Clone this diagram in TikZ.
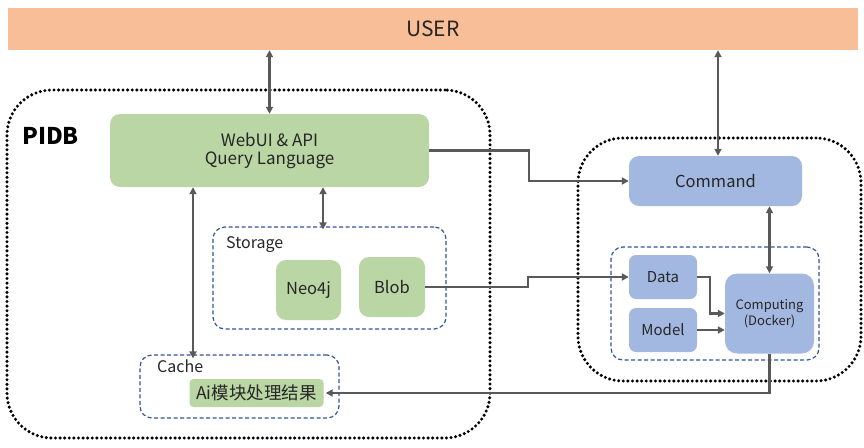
\documentclass[tikz,border=0pt]{standalone}
\usepackage{fontspec}
\setmainfont{Noto Sans CJK SC}
\usetikzlibrary{arrows.meta}
\definecolor{peach}{HTML}{F7BE98}
\definecolor{gfill}{HTML}{B9D6A4}
\definecolor{bfill}{HTML}{A3B8E0}
\definecolor{dblue}{HTML}{2F5597}
\definecolor{lgray}{HTML}{595959}
\definecolor{txt}{HTML}{262626}
\newcommand{\fs}[1]{\fontsize{#1}{#1}\selectfont}
\begin{document}
\begin{tikzpicture}[x=1pt,y=-1pt,
  every node/.style={text=txt},
  gbox/.style={fill=gfill, rounded corners=10pt, align=center, inner sep=0pt, font=\fs{16.5}},
  bbox/.style={fill=bfill, rounded corners=10pt, align=center, inner sep=0pt, font=\fs{15}},
  dotbox/.style={draw=black, line width=3.4pt, dash pattern=on 0pt off 4.6pt, line cap=round, rounded corners=45pt, inner sep=0pt},
  dashbox/.style={draw=dblue, line width=1.2pt, dash pattern=on 4pt off 2.5pt, rounded corners=12pt, inner sep=0pt},
  lbl/.style={anchor=west, inner sep=0pt, font=\fs{16}},
  conn/.style={draw=lgray, line width=2.5pt, -{Triangle[length=7pt,width=7pt]}},
  bconn/.style={draw=lgray, line width=2.5pt, {Triangle[length=7pt,width=7pt]}-{Triangle[length=7pt,width=7pt]}}
]
\useasboundingbox (0,0) rectangle (864,447);
% USER bar
\node[fill=peach, minimum width=850pt, minimum height=42pt, inner sep=0pt, font=\fs{21}] (user) at (433,29) {USER};
% containers
\node[dotbox, minimum width=483pt, minimum height=348pt] (pidb) at (248.5,264) {};
\node[dotbox, minimum width=283pt, minimum height=243pt] (right) at (719.5,259.5) {};
\node[anchor=west, inner sep=0pt, font=\bfseries\fs{23}, text=black] (pidblbl) at (22,136) {PIDB};
% PIDB content
\node[gbox, minimum width=319pt, minimum height=73pt, font=\fs{17}] (webui) at (269.5,150.5) {WebUI \& API\\[1pt]Query Language};
\node[dashbox, minimum width=233pt, minimum height=102pt] (storage) at (329.5,278) {};
\node[lbl] (storagelbl) at (226,245) {Storage};
\node[gbox, minimum width=65pt, minimum height=60pt] (neo) at (308.5,290) {Neo4j};
\node[gbox, minimum width=66pt, minimum height=60pt] (blob) at (392,287) {Blob};
\node[dashbox, minimum width=199pt, minimum height=63pt] (cache) at (239.5,386.5) {};
\node[lbl] (cachelbl) at (157,366) {Cache};
\node[gbox, rounded corners=4pt, minimum width=134pt, minimum height=28pt, font=\fs{17.5}] (ai) at (256.5,393) {Ai模块处理结果};
% right content
\node[bbox, minimum width=173pt, minimum height=50pt, font=\fs{16.5}] (command) at (715.5,181) {Command};
\node[dashbox, minimum width=208pt, minimum height=113pt] (inner) at (715,303.5) {};
\node[bbox, rounded corners=7pt, minimum width=68pt, minimum height=44pt] (data) at (663,277) {Data};
\node[bbox, rounded corners=7pt, minimum width=68pt, minimum height=44pt] (model) at (663,330) {Model};
\node[bbox, rounded corners=12pt, minimum width=89pt, minimum height=80pt, font=\fs{13}] (comp) at (769.5,313.5) {Computing\\[1pt](Docker)};
% connectors
\draw[bconn] (webui.north |- user.south) -- (webui.north);
\draw[bconn] ([xshift=2.5pt]command.north |- user.south) -- ([xshift=2.5pt]command.north);
\draw[bconn] ([xshift=-6.5pt]storage.north |- webui.south) -- ([xshift=-6.5pt,yshift=-3pt]storage.north);
\draw[bconn] ([xshift=-46.5pt]cache.north |- webui.south) -- ([xshift=-46.5pt,yshift=-4pt]cache.north);
\draw[conn] (webui.east) -- ++(100,0) |- (command.west);
\draw[conn] (blob.east) -- ++(103,0) |- (data.west);
\draw[conn] (data.east) -- ++(13,0) |- (comp.west);
\draw[conn] (model.east) -- (model.east -| comp.west);
\draw[bconn] (comp.north) -- (comp.north |- command.south);
\draw[conn] (comp.south) |- ([xshift=2pt]ai.east);
\end{tikzpicture}
\end{document}
